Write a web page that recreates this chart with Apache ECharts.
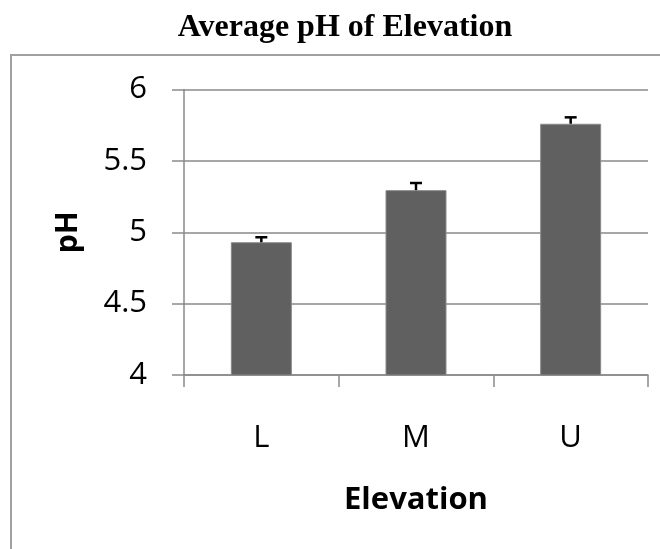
<!DOCTYPE html>
<html>
<head>
<meta charset="utf-8">
<script src="https://cdn.jsdelivr.net/npm/echarts@6/dist/echarts.min.js"></script>
<style>
html,body{margin:0;padding:0;background:#fff;}
#c{width:660px;height:549px;}
</style>
</head>
<body>
<div id="c"></div>
<script>
var categories = ['L', 'M', 'U'];
var means = [4.93, 5.295, 5.76];
var errors = [0.035, 0.05, 0.045];
var yMin = 4, yMax = 6, yInterval = 0.5;

var chart = echarts.init(document.getElementById('c'), null, {renderer: 'canvas'});
var axisGray = '#8a8a8a';
var option = {
  animation: false,
  backgroundColor: '#fff',
  title: {
    text: 'Average pH of Elevation',
    left: 340, textAlign: 'center',
    top: 7,
    textStyle: {fontFamily: 'Liberation Serif', fontWeight: 'bold', fontSize: 32, color: '#000'}
  },
  graphic: [{
    type: 'rect', z: -1, silent: true,
    shape: {x: 11, y: 55, width: 700, height: 600},
    style: {fill: 'none', stroke: '#a0a0a0', lineWidth: 2}
  }],
  grid: {left: 184, right: 12, top: 89.5, bottom: 174, containLabel: false},
  xAxis: {
    type: 'category',
    data: categories,
    name: 'Elevation',
    nameLocation: 'middle',
    nameGap: 110,
    nameTextStyle: {fontFamily: 'Open Sans', fontWeight: 'bold', fontSize: 31, color: '#000'},
    axisLine: {lineStyle: {color: axisGray, width: 1.5}},
    axisTick: {show: true, length: 12, lineStyle: {color: axisGray, width: 1.5}},
    axisLabel: {margin: 48, fontFamily: 'Open Sans', fontSize: 31, color: '#000'}
  },
  yAxis: {
    type: 'value',
    min: yMin, max: yMax, interval: yInterval,
    name: 'pH',
    nameLocation: 'middle',
    nameGap: 101,
    nameTextStyle: {fontFamily: 'Open Sans', fontWeight: 'bold', fontSize: 30, color: '#000'},
    axisLine: {show: true, lineStyle: {color: axisGray, width: 1.5}},
    axisTick: {show: true, length: 12, lineStyle: {color: axisGray, width: 1.5}},
    axisLabel: {margin: 37, fontFamily: 'Open Sans', fontSize: 31, color: '#000'},
    splitLine: {show: true, lineStyle: {color: axisGray, width: 1.5}}
  },
  series: [{
    type: 'bar',
    data: means,
    barWidth: 61,
    itemStyle: {color: '#606060', borderColor: '#8a8a8a', borderWidth: 1}
  }, {
    type: 'custom',
    data: means.map(function (m, i) { return [i, m, errors[i]]; }),
    renderItem: function (params, api) {
      var i = api.value(0), m = api.value(1), e = api.value(2);
      var p0 = api.coord([i, m]);
      var p1 = api.coord([i, m + e]);
      var hw = 6;
      return {
        type: 'group',
        children: [
          {type: 'line', shape: {x1: p0[0], y1: p0[1], x2: p1[0], y2: p1[1]}, style: {stroke: '#000', lineWidth: 2.5}},
          {type: 'line', shape: {x1: p1[0] - hw, y1: p1[1], x2: p1[0] + hw, y2: p1[1]}, style: {stroke: '#000', lineWidth: 2.5}}
        ]
      };
    },
    z: 5
  }]
};
chart.setOption(option);
</script>
</body>
</html>
